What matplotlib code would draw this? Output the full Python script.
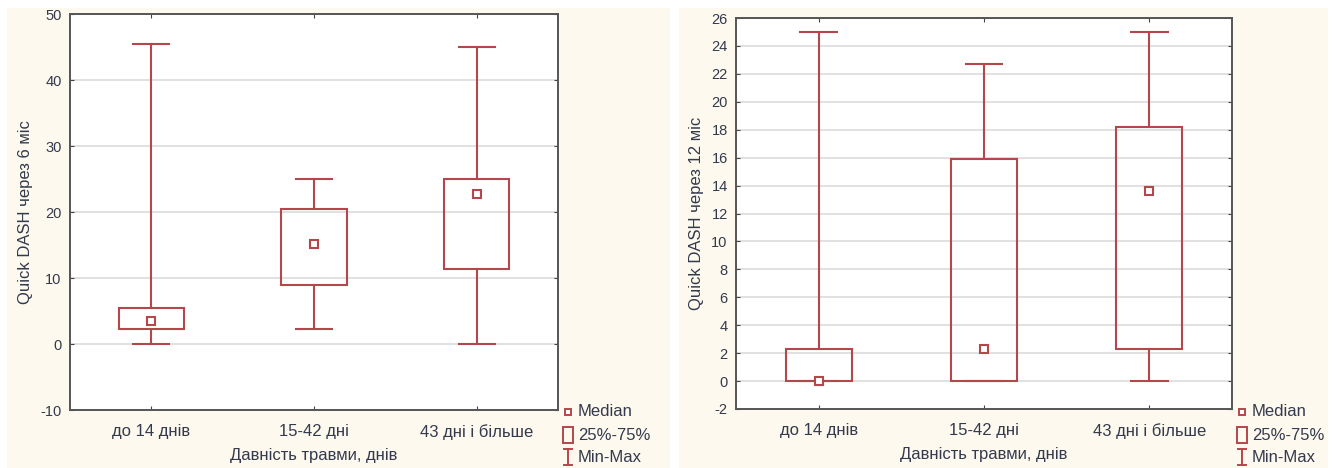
import matplotlib.pyplot as plt
from matplotlib.patches import Rectangle
from matplotlib.lines import Line2D

plt.rcParams['font.family'] = ['Liberation Sans', 'DejaVu Sans']
plt.rcParams['axes.unicode_minus'] = False

groups = ["до 14 днів", "15-42 дні", "43 дні і більше"]

# 6 months
min6 = [0, 2.3, 0]
q1_6 = [2.3, 9.0, 11.4]
med6 = [3.5, 15.2, 22.7]
q3_6 = [5.5, 20.4, 25.0]
max6 = [45.5, 25.0, 45.0]

# 12 months
min12 = [0, 0, 0]
q1_12 = [0, 0, 2.3]
med12 = [0, 2.3, 13.6]
q3_12 = [2.3, 15.9, 18.2]
max12 = [25.0, 22.7, 25.0]

red = "#b4474b"
txt = "#333a4d"
cream = "#fef9ee"

W, H = 1338, 468
fig = plt.figure(figsize=(W / 100, H / 100), dpi=100)
fig.patch.set_facecolor("white")

# cream panels
fig.add_artist(Rectangle((7 / W, 0), (670 - 7) / W, (H - 8) / H,
                         transform=fig.transFigure, facecolor=cream, edgecolor="none", zorder=0))
fig.add_artist(Rectangle((679 / W, 0), (1328 - 679) / W, (H - 8) / H,
                         transform=fig.transFigure, facecolor=cream, edgecolor="none", zorder=0))


def panel(rect, mins, q1, med, q3, maxs, ylim, yticks, ylabel):
    l, t, r, b = rect
    ax = fig.add_axes([l / W, 1 - b / H, (r - l) / W, (b - t) / H])
    ax.set_facecolor("white")
    x = [1, 2, 3]
    bw = 0.4
    cw = 0.22
    for i in range(3):
        ax.add_patch(Rectangle((x[i] - bw / 2, q1[i]), bw, q3[i] - q1[i],
                               facecolor="none", edgecolor=red, lw=1.5, zorder=3))
        ax.plot([x[i], x[i]], [q3[i], maxs[i]], color=red, lw=1.5, zorder=3)
        ax.plot([x[i], x[i]], [mins[i], q1[i]], color=red, lw=1.5, zorder=3)
        ax.plot([x[i] - cw / 2, x[i] + cw / 2], [maxs[i], maxs[i]], color=red, lw=1.5, zorder=3)
        ax.plot([x[i] - cw / 2, x[i] + cw / 2], [mins[i], mins[i]], color=red, lw=1.5, zorder=3)
    ax.plot(x, med, ls="none", marker="s", ms=5.5, mfc="white", mec=red, mew=1.5, zorder=4)
    ax.set_xlim(0.5, 3.5)
    ax.set_ylim(*ylim)
    ax.set_yticks(yticks)
    ax.set_xticks(x)
    ax.set_xticklabels(groups, fontsize=12, color=txt)
    ax.tick_params(axis="y", labelsize=10.5, labelcolor=txt)
    ax.tick_params(direction="in", top=True, right=True, length=3, color="#444444", pad=6)
    ax.tick_params(axis="x", pad=10)
    ax.yaxis.grid(True, color="#dcdcdc", lw=1.2)
    ax.set_axisbelow(True)
    for s in ax.spines.values():
        s.set_color("#555555")
        s.set_linewidth(1.4)
    ax.set_xlabel("Давність травми, днів", fontsize=12, color=txt, labelpad=6)
    ax.set_ylabel(ylabel, fontsize=12, color=txt, labelpad=5)
    return ax


panel((70, 14, 558, 410), min6, q1_6, med6, q3_6, max6, (-10, 50),
      range(-10, 51, 10), "Quick DASH через 6 міс")
panel((736, 18, 1232, 409), min12, q1_12, med12, q3_12, max12, (-2, 26),
      range(-2, 27, 2), "Quick DASH через 12 міс")


def legend(x0):
    # median
    y = 412
    fig.add_artist(Line2D([(x0 + 5) / W], [1 - y / H], transform=fig.transFigure, ls="none",
                          marker="s", ms=4.5, mfc="white", mec=red, mew=1.4))
    fig.text((x0 + 15) / W, 1 - y / H, "Median", fontsize=12, color=txt, va="center")
    # box
    y = 435
    fig.add_artist(Rectangle(((x0 + 0) / W, 1 - (y + 8) / H), 10 / W, 16 / H,
                             transform=fig.transFigure, facecolor="none", edgecolor=red, lw=1.4))
    fig.text((x0 + 15) / W, 1 - y / H, "25%-75%", fontsize=12, color=txt, va="center")
    # min-max
    y = 457
    fig.add_artist(Line2D([(x0 + 5) / W] * 2, [1 - (y - 8) / H, 1 - (y + 8) / H],
                          transform=fig.transFigure, color=red, lw=1.4))
    fig.add_artist(Line2D([(x0 + 1) / W, (x0 + 9) / W], [1 - (y - 8) / H] * 2,
                          transform=fig.transFigure, color=red, lw=1.4))
    fig.add_artist(Line2D([(x0 + 1) / W, (x0 + 9) / W], [1 - (y + 8) / H] * 2,
                          transform=fig.transFigure, color=red, lw=1.4))
    fig.text((x0 + 15) / W, 1 - y / H, "Min-Max", fontsize=12, color=txt, va="center")


legend(563)
legend(1237)

plt.savefig("out.png", dpi=100)
